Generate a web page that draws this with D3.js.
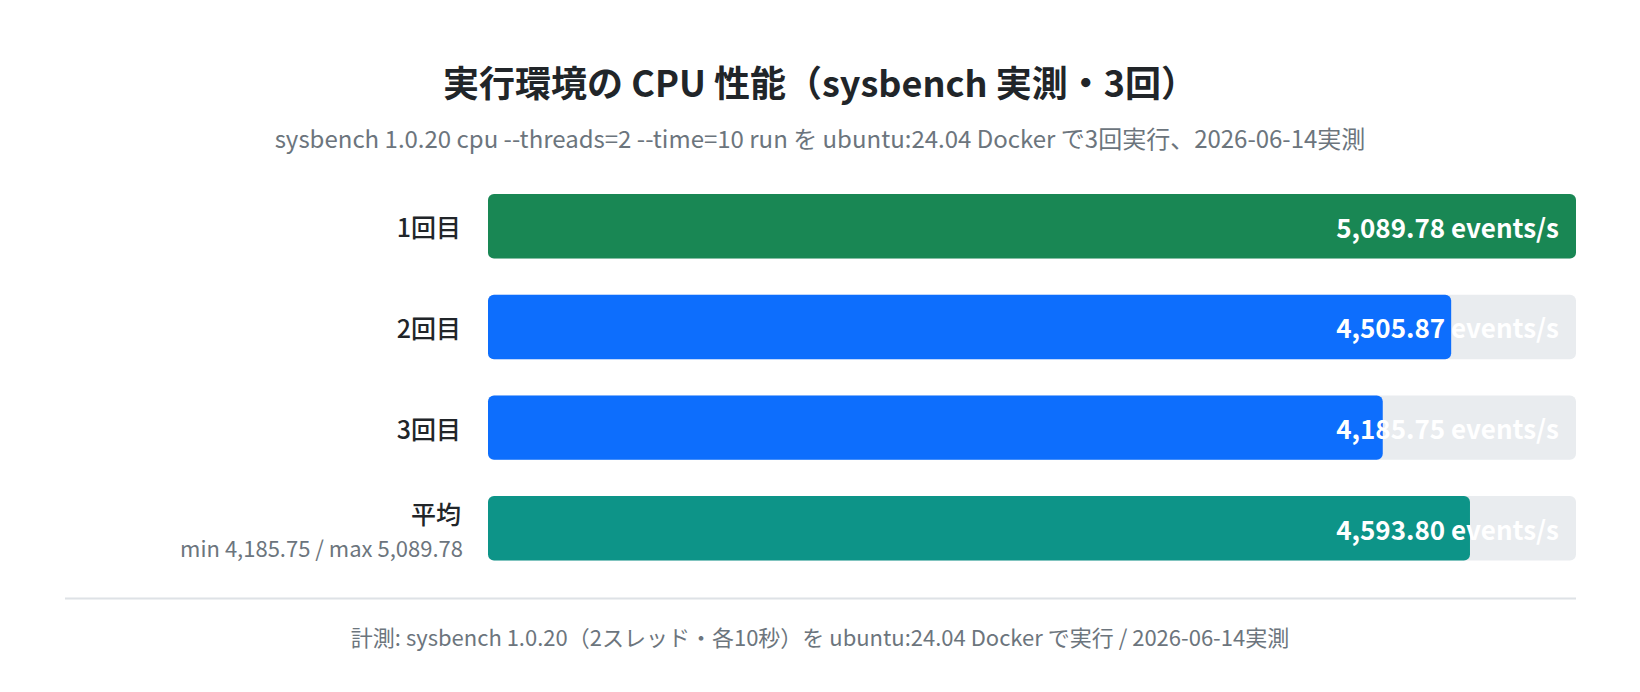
<!DOCTYPE html>
<html><head><meta charset="utf-8">
<script src="https://cdn.jsdelivr.net/npm/d3@7"></script>
<style>
html,body{margin:0;padding:0;background:#fff;}
svg{display:block;font-family:"Noto Sans CJK JP","Noto Sans",sans-serif;}
</style></head>
<body><svg id="c" width="1640" height="692"></svg>
<script>
const categories = ["1回目","2回目","3回目","平均"];
const values = [5089.78, 4505.87, 4185.75, 4593.80];
const barColors = ["#198754","#0d6efd","#0d6efd","#0d9488"];
const unit = "events/s";
const title = "実行環境の CPU 性能（sysbench 実測・3回）";
const subtitle = "sysbench 1.0.20 cpu --threads=2 --time=10 run を ubuntu:24.04 Docker で3回実行、2026-06-14実測";
const avgNote = "min 4,185.75 / max 5,089.78";
const footer = "計測: sysbench 1.0.20（2スレッド・各10秒）を ubuntu:24.04 Docker で実行 / 2026-06-14実測";

const svg = d3.select("#c");
const W = 1640;
const x = d3.scaleLinear().domain([0, d3.max(values)]).range([488, 1576]);
const y = d3.scaleBand().domain(categories).range([157.8, 596.8]).paddingInner(0.36).paddingOuter(0.36);
const fmt = d3.format(",.2f");

svg.append("text").attr("x", W/2).attr("y", 81).attr("text-anchor","middle")
  .attr("dominant-baseline","central").attr("font-size",36).attr("font-weight",700)
  .attr("fill","#212529").text(title);
svg.append("text").attr("x", W/2).attr("y", 137).attr("text-anchor","middle")
  .attr("dominant-baseline","central").attr("font-size",24)
  .attr("fill","#6c757d").text(subtitle);

const rows = svg.selectAll("g.row").data(categories).join("g").attr("class","row");
rows.append("rect").attr("x", x(0)).attr("y", d => y(d)).attr("width", x.range()[1]-x(0))
  .attr("height", y.bandwidth()).attr("rx",6).attr("fill","#e9ecef");
rows.append("rect").attr("x", x(0)).attr("y", d => y(d)).attr("width", (d,i) => x(values[i]) - x(0))
  .attr("height", y.bandwidth()).attr("rx",6).attr("fill",(d,i)=>barColors[i]);
rows.append("text").attr("x", x.range()[1]-17).attr("y", d => y(d)+y.bandwidth()/2)
  .attr("text-anchor","end").attr("dominant-baseline","central")
  .attr("font-size",26).attr("font-weight",700).attr("fill","#fff")
  .text((d,i)=>fmt(values[i])+" "+unit);
rows.append("text").attr("x", 461).attr("y", (d,i) => y(d)+y.bandwidth()/2 + (i===3?-15:0))
  .attr("text-anchor","end").attr("dominant-baseline","central")
  .attr("font-size",25).attr("font-weight",500).attr("fill","#212529").text(d=>d);
svg.append("text").attr("x",463).attr("y", y("平均")+y.bandwidth()/2+19)
  .attr("text-anchor","end").attr("dominant-baseline","central")
  .attr("font-size",22).attr("fill","#6c757d").text(avgNote);

svg.append("line").attr("x1",65).attr("x2",1576).attr("y1",598.5).attr("y2",598.5)
  .attr("stroke","#dee2e6").attr("stroke-width",2);
svg.append("text").attr("x", W/2).attr("y", 636).attr("text-anchor","middle")
  .attr("dominant-baseline","central").attr("font-size",22)
  .attr("fill","#6c757d").text(footer);
</script></body></html>
